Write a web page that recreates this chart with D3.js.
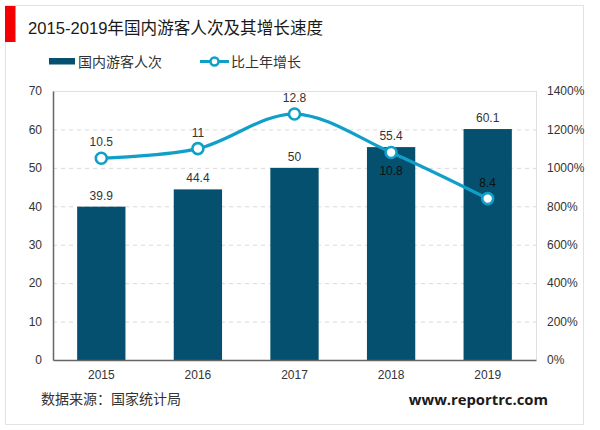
<!DOCTYPE html>
<html><head><meta charset="utf-8">
<script src="https://cdn.jsdelivr.net/npm/d3@7"></script>
<style>html,body{margin:0;padding:0;background:#fff}svg{display:block}
text{font-family:"Liberation Sans","Noto Sans CJK SC",sans-serif}</style></head>
<body><div id="chart"></div>
<script>
const years = ["2015","2016","2017","2018","2019"];
const visitors = [39.9,44.4,50,55.4,60.1];
const growth = [10.5,11,12.8,10.8,8.4];
const leftTicks = [0,10,20,30,40,50,60,70];
const rightTicks = [0,2,4,6,8,10,12,14];
const title = "2015-2019年国内游客人次及其增长速度";
const barName = "国内游客人次";
const lineName = "比上年增长";
const source = "数据来源：国家统计局";
const site = "www.reportrc.com";

const W=600,H=430;
const svg=d3.select("#chart").append("svg").attr("width",W).attr("height",H);
const m={l:53,r:536,t:91,b:360};
const x=d3.scaleBand().domain(years).range([m.l,m.r]).paddingInner(0.5).paddingOuter(0.25);
const y=d3.scaleLinear().domain([0,70]).range([m.b,m.t]);
const y2=d3.scaleLinear().domain([0,14]).range([m.b,m.t]);
const cx=d=>x(d)+x.bandwidth()/2;
const txt="#333";

svg.append("rect").attr("x",5.5).attr("y",5.5).attr("width",578).attr("height",419)
  .attr("fill","#fff").attr("stroke","#e2e2e2");
svg.append("rect").attr("x",5).attr("y",6).attr("width",10.5).attr("height",36).attr("fill","#f50000");
svg.append("text").attr("x",28).attr("y",34).attr("font-size",16.6).attr("fill","#1a1a1a").text(title);

// legend
svg.append("rect").attr("x",49).attr("y",58).attr("width",26).attr("height",6.5).attr("fill","#04506e");
svg.append("text").attr("x",78).attr("y",67).attr("font-size",14).attr("fill",txt).text(barName);
svg.append("line").attr("x1",200).attr("x2",229).attr("y1",61.5).attr("y2",61.5).attr("stroke","#109fc9").attr("stroke-width",3);
svg.append("circle").attr("cx",214.5).attr("cy",61.5).attr("r",4).attr("fill","#fff").attr("stroke","#109fc9").attr("stroke-width",2.5);
svg.append("text").attr("x",231).attr("y",67).attr("font-size",14).attr("fill",txt).text(lineName);

// grid
svg.append("g").selectAll("line").data(leftTicks.filter(d=>d>0&&d<70)).join("line")
  .attr("x1",m.l).attr("x2",m.r).attr("y1",d=>y(d)+.5).attr("y2",d=>y(d)+.5)
  .attr("stroke","#d9d9d9").attr("stroke-dasharray","4 4");
svg.append("line").attr("x1",m.l).attr("x2",m.r).attr("y1",m.t+.5).attr("y2",m.t+.5).attr("stroke","#e0e0e0");
svg.append("line").attr("x1",m.r+.5).attr("x2",m.r+.5).attr("y1",m.t).attr("y2",m.b).attr("stroke","#e0e0e0");

// bars
svg.append("g").selectAll("rect").data(years).join("rect")
  .attr("x",d=>x(d)).attr("width",x.bandwidth())
  .attr("y",(d,i)=>y(visitors[i])).attr("height",(d,i)=>m.b-y(visitors[i])).attr("fill","#04506e");

// axes
const axL=svg.append("g").attr("transform",`translate(${m.l},0)`).call(d3.axisLeft(y).tickValues(leftTicks).tickSize(0).tickPadding(11));
axL.select(".domain").attr("stroke","#666").attr("stroke-width",1.5);
const axB=svg.append("g").attr("transform",`translate(0,${m.b})`).call(d3.axisBottom(x).tickSize(0).tickPadding(10));
axB.select(".domain").attr("stroke","#666").attr("stroke-width",1.5);
const axR=svg.append("g").attr("transform",`translate(${m.r},0)`).call(d3.axisRight(y2).tickValues(rightTicks).tickSize(0).tickPadding(11).tickFormat(d=>d*100+"%"));
axR.select(".domain").remove();
svg.selectAll(".tick text").attr("font-size",12).attr("fill",txt).style("font-family",'"Liberation Sans",sans-serif');

// line
const pts=years.map((d,i)=>[cx(d),y2(growth[i])]);
svg.append("path").attr("d",d3.line().curve(d3.curveCatmullRom.alpha(0))(pts))
  .attr("fill","none").attr("stroke","#109fc9").attr("stroke-width",3.2);
svg.append("g").selectAll("circle").data(pts).join("circle")
  .attr("cx",d=>d[0]).attr("cy",d=>d[1]).attr("r",5.5)
  .attr("fill","#fff").attr("stroke","#109fc9").attr("stroke-width",2.6);

// labels
svg.append("g").selectAll("text").data(years).join("text")
  .attr("x",cx).attr("y",(d,i)=>y(visitors[i])-7).attr("text-anchor","middle")
  .attr("font-size",12).attr("fill",txt).text((d,i)=>visitors[i]);
svg.append("g").selectAll("text").data(years).join("text")
  .attr("x",cx).attr("y",(d,i)=>y2(growth[i])+(i===3?23:-12)).attr("text-anchor","middle")
  .attr("font-size",12).attr("fill",(d,i)=>i>=3?"#111":txt).text((d,i)=>growth[i]);

// footer
svg.append("text").attr("x",41).attr("y",404).attr("font-size",14).attr("fill",txt).text(source);
svg.append("text").attr("x",548).attr("y",405).attr("text-anchor","end").attr("font-size",14.8).attr("font-weight","bold")
  .attr("fill","#1a1a1a").style("font-family",'"Open Sans",sans-serif').text(site);
</script></body></html>
